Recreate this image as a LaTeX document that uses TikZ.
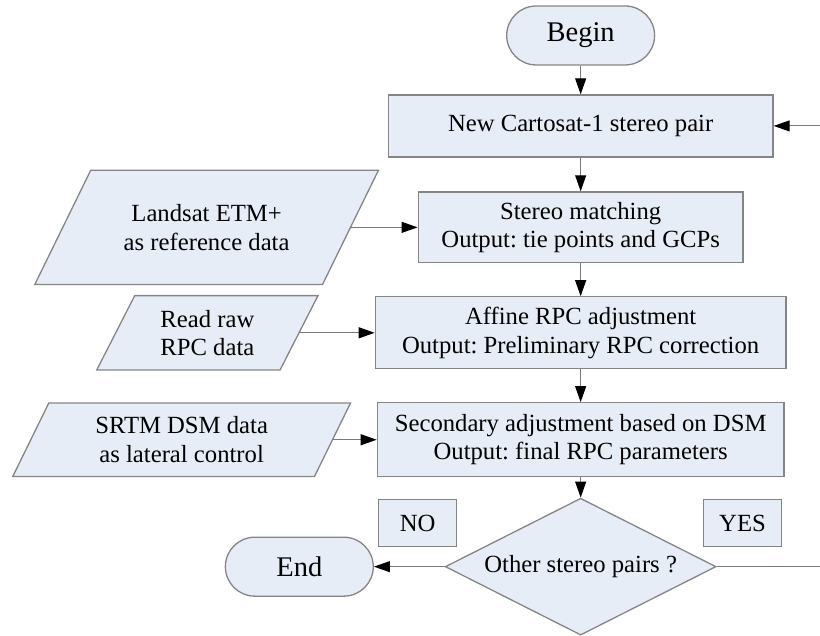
\documentclass[tikz,border=0pt]{standalone}
\usepackage{fontspec}
\setmainfont{Liberation Serif}
\frenchspacing
\usetikzlibrary{arrows.meta,shapes.geometric,backgrounds}
\definecolor{flowfill}{HTML}{E7EDF7}
\definecolor{flowedge}{HTML}{858585}
\definecolor{flowline}{HTML}{7A7A7A}
% slanted data frame round a named node: node name, half of the slant
\newcommand{\slantframe}[2]{%
  \draw[box] ([xshift=#2]#1.north west) -- ([xshift=#2]#1.north east)
    -- ([xshift=-#2]#1.south east) -- ([xshift=-#2]#1.south west) -- cycle;}

\begin{document}
\begin{tikzpicture}[
  x=1pt,
  y=-1pt,
  every node/.style={font=\fontsize{24.7}{28.5}\selectfont, black},
  box/.style={draw=flowedge, fill=flowfill, line width=1.3pt},
  step box/.style={rectangle, box, align=center, inner sep=0pt},
  terminal/.style={step box, rounded corners=29.5pt, minimum width=148pt, minimum height=59pt, font=\fontsize{28.5}{32}\selectfont},
  datain/.style={rectangle, align=center, inner sep=0pt},
  decision/.style={step box, diamond, aspect=2, minimum width=271pt, minimum height=137pt},
  flow/.style={flowline, line width=1pt, -{Triangle[length=16pt, width=11pt, color=black]}},
  plain/.style={flowline, line width=1pt}
]
  % ---- fixed frame of the figure ----
  \path (0,0) rectangle (820,635);

  % ---- main column ----
  \node[terminal] (begin) at (581,35.5) {Begin};
  \node[step box, minimum width=385pt, minimum height=62pt] (newpair) at (581,126)
    {New Cartosat-1 stereo pair};
  \node[step box, minimum width=325pt, minimum height=71pt] (match) at (581,227.5)
    {Stereo matching\\Output: tie points and GCPs};
  \node[step box, minimum width=411pt, minimum height=72pt] (affine) at (581,333)
    {Affine RPC adjustment\\Output: Preliminary RPC correction};
  \node[step box, minimum width=407pt, minimum height=74pt] (second) at (581,440)
    {Secondary adjustment based on DSM\\Output: final RPC parameters};
  \node[decision] (decide) at (581,567) {Other stereo pairs ?};

  % ---- input data on the left (frame drawn behind the text) ----
  \node[datain, minimum width=287.5pt, minimum height=114pt] (landsat) at (206.75,227.5)
    {Landsat ETM+\\as reference data};
  \node[datain, minimum width=183pt, minimum height=74pt] (rawrpc) at (207.5,333)
    {Read raw\\RPC data};
  \node[datain, minimum width=301.5pt, minimum height=73pt] (srtm) at (181.75,440)
    {SRTM DSM data\\as lateral control};
  \begin{scope}[on background layer]
    \slantframe{landsat}{28pt}
    \slantframe{rawrpc}{19pt}
    \slantframe{srtm}{18pt}
  \end{scope}

  % ---- ending and branch labels ----
  \node[terminal] (finish) at (299.5,567) {End};
  \node[step box, minimum width=78pt, minimum height=47pt] (no) at (418,523.5) {NO};
  \node[step box, minimum width=78pt, minimum height=47pt] (yes) at (743,523.5) {YES};

  % ---- loop ends, cut at the frame ----
  \coordinate (loopin) at (820,126);
  \coordinate (loopout) at (820,567);

  % ---- connectors ----
  \draw[flow] (begin) -- (newpair);
  \draw[flow] (newpair) -- (match);
  \draw[flow] (match) -- (affine);
  \draw[flow] (affine) -- (second);
  \draw[flow] (second) -- (decide);
  \draw[flow] (landsat) -- (match);
  \draw[flow] (rawrpc) -- (affine);
  \draw[flow] (srtm) -- (second);
  \draw[flow] (loopin) -- (newpair);
  \draw[flow] (decide) -- (finish);
  \draw[plain] (decide) -- (loopout);
\end{tikzpicture}
\end{document}
